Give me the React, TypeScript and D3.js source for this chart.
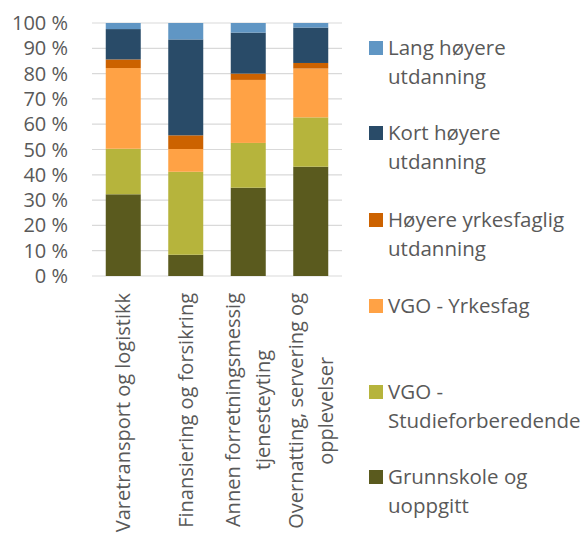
import React, { useEffect, useRef } from "react";
import * as d3 from "d3";

const categories = [
  ["Varetransport og logistikk"],
  ["Finansiering og forsikring"],
  ["Annen forretningsmessig", "tjenesteyting"],
  ["Overnatting, servering og", "opplevelser"],
];
const seriesNames = [
  "Grunnskole og uoppgitt",
  "VGO - Studieforberedende",
  "VGO - Yrkesfag",
  "Høyere yrkesfaglig utdanning",
  "Kort høyere utdanning",
  "Lang høyere utdanning",
];
const legendLines = [
  ["Lang høyere", "utdanning"],
  ["Kort høyere", "utdanning"],
  ["Høyere yrkesfaglig", "utdanning"],
  ["VGO - Yrkesfag"],
  ["VGO -", "Studieforberedende"],
  ["Grunnskole og", "uoppgitt"],
];
const colors = ["#5A5A1E", "#B6B43C", "#FFA245", "#CC6200", "#294B68", "#6096C4"];
// values per series (bottom to top), one per category
const grunnskole = [32.3, 8.4, 34.9, 43.2];
const vgoStudie = [18.0, 32.8, 17.7, 19.5];
const vgoYrkes = [31.9, 9.0, 24.9, 19.3];
const hoyereYrkes = [3.4, 5.4, 2.5, 2.2];
const kortHoyere = [12.0, 37.9, 16.2, 14.0];
const langHoyere = [2.4, 6.5, 3.8, 1.8];
const yTicks = [0, 10, 20, 30, 40, 50, 60, 70, 80, 90, 100];

const FONT = "'Open Sans', sans-serif";
const TEXT = "#595959";

export default function App() {
  const ref = useRef<SVGSVGElement>(null);
  useEffect(() => {
    const svg = d3.select(ref.current);
    svg.selectAll("*").remove();
    const series = [grunnskole, vgoStudie, vgoYrkes, hoyereYrkes, kortHoyere, langHoyere];
    const keys = categories.map((_, i) => "c" + i);
    const x = d3.scaleBand().domain(keys).range([92, 342]).paddingInner(0.44).paddingOuter(0.22);
    const y = d3.scaleLinear().domain([0, 100]).range([276, 23]);

    // grid
    svg.append("g").selectAll("line").data(yTicks).join("line")
      .attr("x1", 92).attr("x2", 342)
      .attr("y1", (d) => y(d)).attr("y2", (d) => y(d))
      .attr("stroke", "#D9D9D9").attr("stroke-width", 1.2);
    // y labels
    svg.append("g").selectAll("text").data(yTicks).join("text")
      .attr("x", 68).attr("y", (d) => y(d)).attr("dy", "0.35em")
      .attr("text-anchor", "end").attr("fill", TEXT)
      .style("font-family", FONT).style("font-size", "20px")
      .text((d) => `${d} %`);

    // stacked bars
    const table = keys.map((k, i) => {
      const o: any = { key: k };
      series.forEach((s, j) => (o[seriesNames[j]] = s[i]));
      return o;
    });
    const stack = d3.stack().keys(seriesNames)(table as any);
    stack.forEach((layer, j) => {
      svg.append("g").attr("fill", colors[j]).selectAll("rect").data(layer).join("rect")
        .attr("x", (d: any) => x(d.data.key)!)
        .attr("width", x.bandwidth())
        .attr("y", (d) => y(d[1]))
        .attr("height", (d) => y(d[0]) - y(d[1]));
    });

    // x labels
    categories.forEach((lines, i) => {
      const cx = x(keys[i])! + x.bandwidth() / 2;
      const g = svg.append("g");
      const lineGap = 30;
      const texts = lines.map((ln) =>
        g.append("text")
          .attr("text-anchor", "middle").attr("fill", TEXT)
          .style("font-family", FONT).style("font-size", "20px")
          .text(ln)
      );
      const maxLen = d3.max(texts, (t) => (t.node() as SVGTextElement).getComputedTextLength()) || 0;
      const cy = 293 + maxLen / 2;
      texts.forEach((t, k) => {
        const lx = cx + (k - (lines.length - 1) / 2) * lineGap;
        t.attr("transform", `translate(${lx},${cy}) rotate(-90)`).attr("dy", "0.35em");
      });
    });

    // legend
    const itemY = [48, 133, 220, 306, 392, 477];
    legendLines.forEach((lines, i) => {
      const g = svg.append("g");
      g.append("rect").attr("x", 369).attr("y", itemY[i] - 7).attr("width", 14).attr("height", 14)
        .attr("fill", colors[5 - i]);
      lines.forEach((ln, k) => {
        g.append("text").attr("x", 388).attr("y", itemY[i] + k * 29).attr("dy", "0.35em")
          .attr("fill", TEXT).style("font-family", FONT).style("font-size", "20.5px").text(ln);
      });
    });
  }, []);
  return (
    <svg ref={ref} width={585} height={543} style={{ position: "absolute", left: 0, top: 0, background: "#fff" }} />
  );
}
